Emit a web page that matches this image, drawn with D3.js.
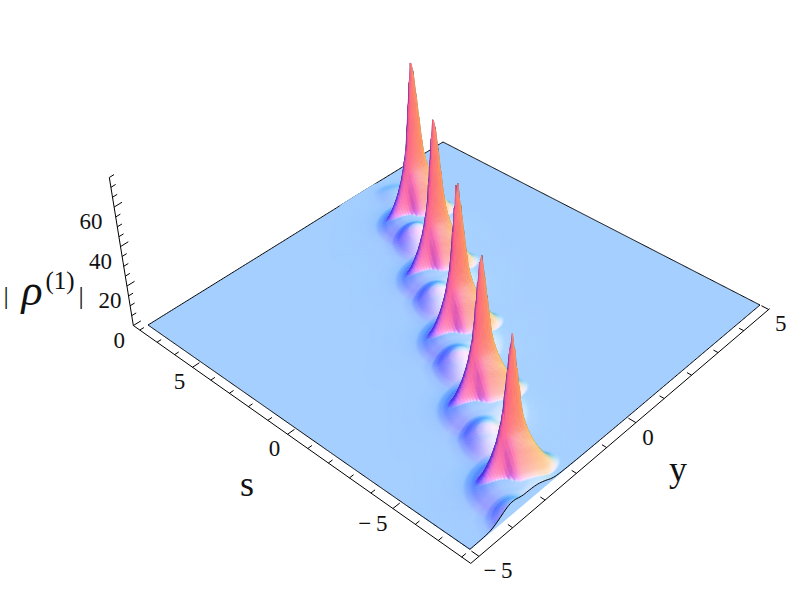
<!DOCTYPE html>
<html>
<head>
<meta charset="utf-8">
<script src="https://cdnjs.cloudflare.com/ajax/libs/d3/7.8.5/d3.min.js"></script>
<style>
  html, body { margin: 0; background: #fff; }
  text { font-family: "Liberation Serif", serif; fill: #111; }
</style>
</head>
<body>
<script>
const width = 799;
const height = 589;

// values
const sExtent = [8, -8];
const yExtent = [-5, 5];
const zExtent = [0, 75];
const peakS = [5.13, 2.19, -0.84, -3.79, -6.90, -9.95];
const peakY = [2.11, 0.91, -0.375, -1.67, -2.95, -4.23];
const domeH = [0.25, 1, 1, 1, 1, 0.8];
const coreR = [0, 0.005, 0.0145, 0.025, 0.04, 0.055];
const coreZ = [56, 47, 27, 9, 1.5, 0];
const midR = [0, 0.03, 0.05, 0.065, 0.08, 0.095, 0.11];
const midZ = [18, 17, 12.5, 8, 4, 1.2, 0];
const footR = [0, 0.03, 0.05, 0.07, 0.085, 0.1, 0.14, 0.22, 0.35];
const footZ = [6, 5.7, 4.8, 3, 1.5, 0.7, 0.3, 0.1, 0];
const domeR = [0, 0.3, 0.6, 0.8, 1, 1.3, 1.8];
const domeZ = [5, 4.6, 3.4, 2.3, 1.2, 0.3, 0];
const sTicks = d3.range(-8, 9);
const yTicks = d3.range(-5, 6);
const zTicks = d3.range(0, 80, 5);
const sLabels = [5, 0, -5];
const yLabels = [-5, 0, 5];
const zLabels = [0, 20, 40, 60];

const svg = d3.select('body').append('svg')
  .attr('width', width).attr('height', height)
  .style('display', 'block');

const uOf = d3.scaleLinear().domain(sExtent).range([0, 1]);
const vOf = d3.scaleLinear().domain(yExtent).range([0, 1]);
const tOf = d3.scaleLinear().domain(zExtent).range([0, 0.0638]);

// perspective of the floor, from its four corners on screen
const nadir = [510, 2646];
function project(s, y, z) {
  const u = uOf(s), v = vOf(y);
  const w = 1 - 0.1508 * u + 0.1537 * v;
  const X = (251.1 * u + 363.1 * v + 148) / w;
  const Y = (142.1 * u - 161.2 * v + 325) / w;
  const t = tOf(z || 0);
  return [X + (X - nadir[0]) * t, Y + (Y - nadir[1]) * t];
}

// monotone cubic through the read values
function profile(xs, ys) {
  const n = xs.length;
  const sec = d3.range(n - 1).map(i => (ys[i + 1] - ys[i]) / (xs[i + 1] - xs[i]));
  const m = xs.map((d, i) => {
    if (i === 0) return 0;
    if (i === n - 1) return 0;
    const a = xs[i] - xs[i - 1], b = xs[i + 1] - xs[i];
    return 3 * (a + b) / ((2 * b + a) / sec[i - 1] + (b + 2 * a) / sec[i]);
  });
  return r => {
    if (r >= xs[n - 1]) return ys[n - 1];
    const i = d3.bisectRight(xs, r) - 1;
    const h = xs[i + 1] - xs[i], t = (r - xs[i]) / h;
    return (2 * t * t * t - 3 * t * t + 1) * ys[i] + (t * t * t - 2 * t * t + t) * h * m[i]
      + (-2 * t * t * t + 3 * t * t) * ys[i + 1] + (t * t * t - t * t) * h * m[i + 1];
  };
}
const core = profile(coreR, coreZ);
const mid = profile(midR, midZ);
const foot = profile(footR, footZ);
const dome = profile(domeR, domeZ);

const perS = 2.95, perY = 1.27;
const trainU = perS / 16, trainV = perY / 10;
const trainL2 = trainU * trainU + trainV * trainV;

// the left side of each spike is sharper than the right
const leftness = d3.scaleLinear().domain([0.005, -0.05]).range([0, 1]).clamp(true);

function heightAt(s, y) {
  let z = 0;
  for (let i = 0; i < peakS.length; i++) {
    const du = (s - peakS[i]) / 16, dv = (y - peakY[i]) / 10;
    const p = 0.942 * du + 0.338 * dv, q = -0.338 * du + 0.942 * dv;
    const l = d3.easeCubicInOut(leftness(q));
    z += core(Math.hypot(q, p * (3.2 + 1.3 * l)));
    z += mid(Math.hypot(q * (1 + 0.3 * l), p * (2.2 + 1.8 * l)));
    z += foot(Math.hypot(q + 0.02, p + 0.035));
    const a = (du * trainU + dv * trainV) / trainL2 - 0.5;
    const b = (du * trainV - dv * trainU) / trainL2 - 0.14;
    z += domeH[i] * dome(Math.hypot(a / (a > 0 ? 0.15 : 0.3), b / 0.2));
  }
  return z;
}

// lighting in view coordinates
const eS = [-0.741, 0.449, -0.502]; // towards +s
const eY = [0.674, 0.494, -0.552];  // towards +y
const eZ = [0, 0.746, 0.667];
const ambient = [0.34, 0.19, 0.37];
const lights = [
  {dir: [0.588, -0.196, 0.784], col: [0.82, 0, 0]},
  {dir: [0.515, 0.515, 0.686], col: [0, 0.74, 0]},
  {dir: [-0.196, 0.588, 0.784], col: [0, 0, 0.83]}
];
function shade(dzds, dzdy) {
  // slopes in box units: s spans 1 over 16, y over 10, z 0.4 over 75
  const ns = -dzds * 16 * 0.4 / 75, ny = -dzdy * 10 * 0.4 / 75;
  const n = [0, 1, 2].map(i => ns * eS[i] + ny * eY[i] + eZ[i]);
  const len = Math.hypot(n[0], n[1], n[2]);
  const c = ambient.slice();
  lights.forEach(l => {
    const d = Math.max(0, (n[0] * l.dir[0] + n[1] * l.dir[1] + n[2] * l.dir[2]) / len);
    c[0] += d * l.col[0]; c[1] += d * l.col[1]; c[2] += d * l.col[2];
  });
  return c.map(v => Math.min(255, v * 255));
}

const floorCol = shade(0, 0);
const rgb = c => `rgb(${Math.round(c[0])},${Math.round(c[1])},${Math.round(c[2])})`;

// floor first, back edges behind the surface
const line = d3.line();
const edgeS = d3.range(8, -8.001, -0.05);
const edgeY = d3.range(-5, 5.001, 0.05);
const corners = [[8, -5], [-8, -5], [-8, 5], [8, 5]];
svg.append('polygon')
  .attr('points', corners.map(c => project(c[0], c[1], 0).join(',')).join(' '))
  .attr('fill', rgb(floorCol));
const edge = pts => pts.map(p => project(p[0], p[1], heightAt(p[0], p[1])));
const edgeStyle = p => p.attr('fill', 'none').attr('stroke', '#000').attr('stroke-width', 1);
svg.append('path').call(edgeStyle).attr('d', line(edge(edgeY.map(y => [8, y]))));
svg.append('path').call(edgeStyle).attr('d', line(edge(edgeS.map(s => [s, 5]))));

// surface, far cells first
const ds = 0.03, dy = 0.05;
const sGrid = d3.range(8, -8.001, -ds);
const yGrid = d3.range(5, -5.001, -dy);
const zGrid = sGrid.map(s => yGrid.map(y => heightAt(s, y)));
const cells = [];
for (let i = 0; i < sGrid.length - 1; i++) {
  for (let j = 0; j < yGrid.length - 1; j++) {
    const z00 = zGrid[i][j], z10 = zGrid[i + 1][j], z01 = zGrid[i][j + 1], z11 = zGrid[i + 1][j + 1];
    const dzds = ((z00 + z01) - (z10 + z11)) / (2 * ds);
    const dzdy = ((z00 + z10) - (z01 + z11)) / (2 * dy);
    const c = shade(dzds, dzdy);
    const diff = Math.abs(c[0] - floorCol[0]) + Math.abs(c[1] - floorCol[1]) + Math.abs(c[2] - floorCol[2]);
    if (diff < 2 && z00 < 0.4) continue;
    cells.push({
      pts: [
        project(sGrid[i], yGrid[j], z00), project(sGrid[i + 1], yGrid[j], z10),
        project(sGrid[i + 1], yGrid[j + 1], z11), project(sGrid[i], yGrid[j + 1], z01)
      ].map(p => p[0].toFixed(1) + ',' + p[1].toFixed(1)).join(' '),
      col: rgb(c)
    });
  }
}
svg.append('g').selectAll('polygon').data(cells).join('polygon')
  .attr('points', d => d.pts)
  .attr('fill', d => d.col)
  .attr('stroke', d => d.col)
  .attr('stroke-width', 0.7);

// front edges
svg.append('path').call(edgeStyle).attr('d', line(edge(edgeS.map(s => [s, -5]))));
svg.append('path').call(edgeStyle).attr('d', line(edge(edgeY.map(y => [-8, y]))));

// axes
const axS = 8.38, axY = -5.24;
const axisG = svg.append('g').attr('stroke', '#000').attr('stroke-width', 1).attr('fill', 'none');
axisG.append('path').attr('d', line([project(axS, axY, 0), project(-axS, axY, 0)]));
axisG.append('path').attr('d', line([project(-axS, axY, 0), project(-axS, 5.04, 0)]));
axisG.append('path').attr('d', line([project(axS, axY, 0), project(axS, axY, 75)]));
axisG.selectAll('.ts').data(sTicks).join('path').attr('class', 'ts')
  .attr('d', d => line([project(d, axY, 0), project(d, axY + (sLabels.includes(d) ? 0.2 : 0.12), 0)]));
axisG.selectAll('.ty').data(yTicks).join('path').attr('class', 'ty')
  .attr('d', d => line([project(-axS, d, 0), project(-axS + (yLabels.includes(d) ? 0.32 : 0.2), d, 0)]));
axisG.selectAll('.tz').data(zTicks).join('path').attr('class', 'tz')
  .attr('d', d => line([project(axS, axY, d), project(axS, axY + (zLabels.includes(d) ? 0.22 : 0.13), d)]));

const tick = (x, y, t) => svg.append('text').attr('x', x).attr('y', y)
  .attr('text-anchor', 'middle').attr('font-size', 23).text(t);
const fmt = d => (d < 0 ? '\u2212\u2009' + (-d) : String(d));
sLabels.forEach(d => { const p = project(d, axY, 0); tick(p[0] - 13 - (d < 0 ? 7 : 0), p[1] + 22, fmt(d)); });
yLabels.forEach(d => { const p = project(-axS, d, 0); tick(p[0] + (d < 0 ? 19 : 12), p[1] + 22, fmt(d)); });
zLabels.forEach(d => { const p = project(axS, axY, d); tick(p[0] - 14 - d * 0.15, p[1] + 22, fmt(d)); });

svg.append('text').attr('x', 247).attr('y', 496).attr('text-anchor', 'middle').attr('font-size', 36).text('s');
svg.append('text').attr('x', 678).attr('y', 481).attr('text-anchor', 'middle').attr('font-size', 36).text('y');
svg.append('text').attr('x', 6).attr('y', 304).attr('text-anchor', 'middle').attr('font-size', 26).text('|');
svg.append('text').attr('x', 32).attr('y', 305).attr('text-anchor', 'middle').attr('font-size', 44).attr('font-style', 'italic').text('\u03c1');
svg.append('text').attr('x', 60).attr('y', 289).attr('text-anchor', 'middle').attr('font-size', 25).text('(1)');
svg.append('text').attr('x', 81).attr('y', 304).attr('text-anchor', 'middle').attr('font-size', 26).text('|');
</script>
</body>
</html>
